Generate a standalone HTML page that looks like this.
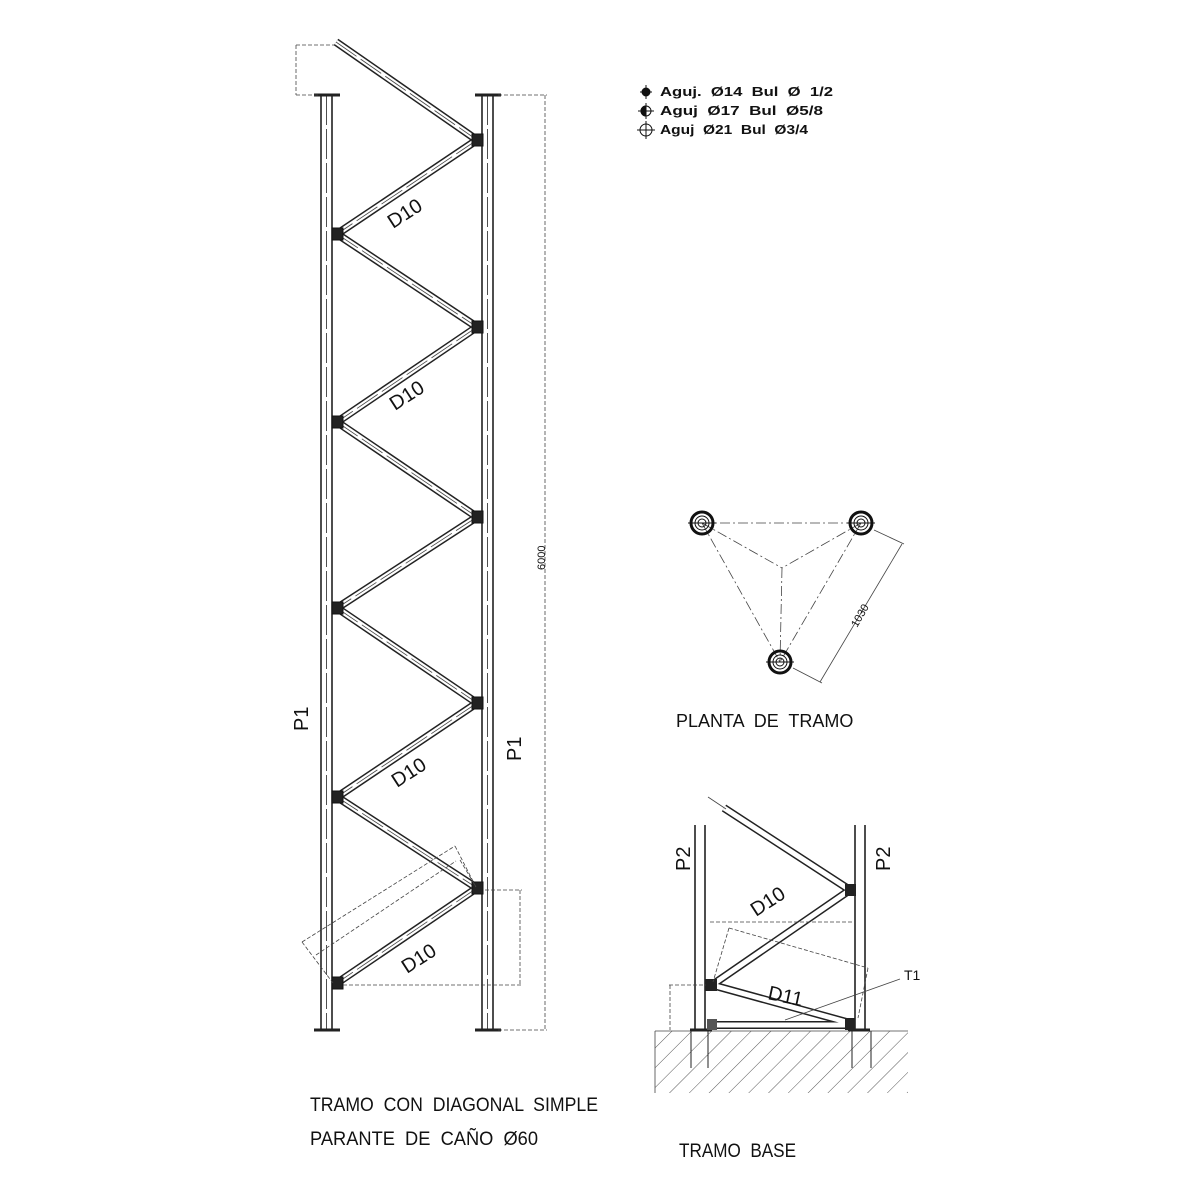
<!DOCTYPE html>
<html><head><meta charset="utf-8"><style>
html,body{margin:0;padding:0;background:#fff}
svg{display:block}
text{font-family:"Liberation Sans",sans-serif;fill:#111;white-space:pre}
</style></head><body>
<svg width="1200" height="1200" viewBox="0 0 1200 1200" xmlns="http://www.w3.org/2000/svg" xml:space="preserve">
<defs>
<pattern id="h" width="14" height="14" patternUnits="userSpaceOnUse" patternTransform="rotate(45)">
<line x1="0" y1="0" x2="0" y2="14" stroke="#444" stroke-width="0.9"/>
</pattern>
</defs>
<rect width="1200" height="1200" fill="#fff"/>

<g stroke="#222" fill="none">
<line x1="321" y1="95" x2="321" y2="1030" stroke-width="1.6"/>
<line x1="332" y1="95" x2="332" y2="1030" stroke-width="1.6"/>
<line x1="326.5" y1="95" x2="326.5" y2="1030" stroke-width="0.8" stroke-dasharray="30 4"/>
<line x1="482" y1="95" x2="482" y2="1030" stroke-width="1.6"/>
<line x1="493" y1="95" x2="493" y2="1030" stroke-width="1.6"/>
<line x1="487.5" y1="95" x2="487.5" y2="1030" stroke-width="0.8" stroke-dasharray="30 4"/>
<line x1="314" y1="95" x2="340" y2="95" stroke-width="3"/>
<line x1="475" y1="95" x2="501" y2="95" stroke-width="3"/>
<line x1="314" y1="1030" x2="340" y2="1030" stroke-width="3"/>
<line x1="475" y1="1030" x2="501" y2="1030" stroke-width="3"/>
</g>

<g fill="none" stroke-linecap="butt">
<path d="M336 42L477 140M477 140L337 234M337 234L477 327M477 327L337 422M337 422L477 517M477 517L337 608M337 608L477 703M477 703L337 797M337 797L477 888M477 888L337 983" stroke="#222" stroke-width="8"/>
<path d="M336 42L477 140M477 140L337 234M337 234L477 327M477 327L337 422M337 422L477 517M477 517L337 608M337 608L477 703M477 703L337 797M337 797L477 888M477 888L337 983" stroke="#fff" stroke-width="5"/>
<path d="M336 42L477 140M477 140L337 234M337 234L477 327M477 327L337 422M337 422L477 517M477 517L337 608M337 608L477 703M477 703L337 797M337 797L477 888M477 888L337 983" stroke="#444" stroke-width="0.8" stroke-dasharray="25 5"/>
</g>
<g fill="#222" stroke="#111">
<rect x="472" y="134" width="11" height="12"/>
<rect x="332" y="228" width="11" height="12"/>
<rect x="472" y="321" width="11" height="12"/>
<rect x="332" y="416" width="11" height="12"/>
<rect x="472" y="511" width="11" height="12"/>
<rect x="332" y="602" width="11" height="12"/>
<rect x="472" y="697" width="11" height="12"/>
<rect x="332" y="791" width="11" height="12"/>
<rect x="472" y="882" width="11" height="12"/>
<rect x="332" y="977" width="11" height="12"/>
</g>

<g stroke="#444" stroke-width="0.8" fill="none" stroke-dasharray="4 2">
<line x1="296" y1="45" x2="334" y2="45"/>
<line x1="296" y1="45" x2="296" y2="95"/>
<line x1="296" y1="95" x2="318" y2="95"/>
<line x1="498" y1="95" x2="547" y2="95"/>
<line x1="545" y1="95" x2="545" y2="1030"/>
<line x1="498" y1="1030" x2="547" y2="1030"/>
<line x1="485" y1="890" x2="522" y2="890"/>
<line x1="520" y1="890" x2="520" y2="985"/>
<line x1="343" y1="985" x2="522" y2="985"/>
<line x1="302" y1="942" x2="455" y2="846"/>
<line x1="316" y1="955" x2="456" y2="861"/>
<line x1="302" y1="942" x2="333" y2="983"/>
<line x1="455" y1="846" x2="476" y2="887"/>
<line x1="460" y1="860" x2="476" y2="887"/>
</g>
<text x="0" y="0" font-size="11" transform="translate(545,570) rotate(-90)">6000</text>

<g font-size="20">
<text transform="translate(393,229) rotate(-33)">D10</text>
<text transform="translate(395,411) rotate(-33)">D10</text>
<text transform="translate(397,788) rotate(-33)">D10</text>
<text transform="translate(407,974) rotate(-33)">D10</text>
<text transform="translate(308,731) rotate(-90)">P1</text>
<text transform="translate(521,761) rotate(-90)">P1</text>
</g>

<g stroke="#111" fill="none">
<line x1="640" y1="92" x2="652" y2="92"/><line x1="646" y1="85" x2="646" y2="99"/>
<circle cx="646" cy="92" r="4" fill="#111"/>
<line x1="638" y1="111" x2="654" y2="111"/><line x1="646" y1="103" x2="646" y2="119"/>
<circle cx="646" cy="111" r="5"/><path d="M646 106A5 5 0 0 0 646 116Z" fill="#111"/>
<line x1="637" y1="130" x2="655" y2="130"/><line x1="646" y1="121" x2="646" y2="139"/>
<circle cx="646" cy="130" r="6"/>
</g>
<g font-size="13" font-weight="bold">
<text x="660" y="96" textLength="173" lengthAdjust="spacingAndGlyphs">Aguj.  Ø14  Bul  Ø  1/2</text>
<text x="660" y="115" textLength="163" lengthAdjust="spacingAndGlyphs">Aguj  Ø17  Bul  Ø5/8</text>
<text x="660" y="134" textLength="148" lengthAdjust="spacingAndGlyphs">Aguj  Ø21  Bul  Ø3/4</text>
</g>

<g stroke="#444" stroke-width="0.8" fill="none" stroke-dasharray="10 3 2 3">
<line x1="702" y1="523" x2="861" y2="523"/>
<line x1="702" y1="523" x2="780" y2="662"/>
<line x1="861" y1="523" x2="780" y2="662"/>
<line x1="702" y1="523" x2="782" y2="568"/>
<line x1="861" y1="523" x2="782" y2="568"/>
<line x1="782" y1="568" x2="780" y2="662"/>
</g>
<g stroke="#444" stroke-width="0.8" fill="none">
<line x1="874" y1="530" x2="904" y2="544"/>
<line x1="793" y1="668" x2="822" y2="683"/>
<line x1="902" y1="544" x2="820" y2="682"/>
</g>
<g stroke="#111" fill="none">
<circle cx="702" cy="523" r="11" stroke-width="3"/><circle cx="702" cy="523" r="7"/><circle cx="702" cy="523" r="4"/>
<circle cx="861" cy="523" r="11" stroke-width="3"/><circle cx="861" cy="523" r="7"/><circle cx="861" cy="523" r="4"/>
<circle cx="780" cy="662" r="11" stroke-width="3"/><circle cx="780" cy="662" r="7"/><circle cx="780" cy="662" r="4"/>
<line x1="688" y1="523" x2="716" y2="523"/><line x1="847" y1="523" x2="875" y2="523"/><line x1="766" y1="662" x2="794" y2="662"/>
</g>
<text font-size="11" transform="translate(857,628) rotate(-60)">1030</text>
<text x="676" y="727" font-size="18">PLANTA  DE  TRAMO</text>

<rect x="655" y="1031" width="253" height="62" fill="url(#h)"/>
<line x1="655" y1="1031" x2="908" y2="1031" stroke="#444" stroke-width="0.8"/>
<line x1="655" y1="1031" x2="655" y2="1093" stroke="#444" stroke-width="0.8"/>
<g stroke="#222" fill="none">
<line x1="695" y1="825" x2="695" y2="1030" stroke-width="1.6"/>
<line x1="705" y1="825" x2="705" y2="1030" stroke-width="1.6"/>
<line x1="855" y1="825" x2="855" y2="1030" stroke-width="1.6"/>
<line x1="865" y1="825" x2="865" y2="1030" stroke-width="1.6"/>
<line x1="690" y1="1030" x2="712" y2="1030" stroke-width="3"/>
<line x1="848" y1="1030" x2="870" y2="1030" stroke-width="3"/>
<line x1="691" y1="1031" x2="691" y2="1068"/>
<line x1="708" y1="1031" x2="708" y2="1068"/>
<line x1="852" y1="1031" x2="852" y2="1068"/>
<line x1="871" y1="1031" x2="871" y2="1068"/>
</g>
<g fill="none">
<path d="M724 808L850 890M850 890L712 985M712 985L850 1023M714 1025L850 1025" stroke="#222" stroke-width="8"/>
<path d="M724 808L850 890M850 890L712 985M712 985L850 1023M714 1025L850 1025" stroke="#fff" stroke-width="5"/>
<line x1="708" y1="797" x2="726" y2="809" stroke="#444" stroke-width="0.8"/>
</g>
<g fill="#222"><rect x="845" y="884" width="11" height="12"/><rect x="705" y="979" width="12" height="12"/><rect x="845" y="1018" width="10" height="12"/><rect x="707" y="1019" width="10" height="11" fill="#555"/></g>
<g stroke="#444" stroke-width="0.8" fill="none" stroke-dasharray="4 2">
<line x1="710" y1="922" x2="852" y2="922"/>
<line x1="729" y1="928" x2="868" y2="968"/>
<line x1="729" y1="928" x2="713" y2="982"/>
<line x1="868" y1="968" x2="858" y2="1018"/>
<line x1="669" y1="985" x2="706" y2="985"/>
<line x1="670" y1="985" x2="670" y2="1030"/>
<line x1="785" y1="1020" x2="900" y2="979" stroke-dasharray="none"/>
</g>
<g font-size="20">
<text transform="translate(690,871) rotate(-90)">P2</text>
<text transform="translate(890,871) rotate(-90)">P2</text>
<text transform="translate(756,917) rotate(-33)">D10</text>
<text transform="translate(767,999) rotate(12)">D11</text>
</g>
<text x="904" y="980" font-size="14">T1</text>

<g font-size="19">
<text x="310" y="1111" textLength="288" lengthAdjust="spacingAndGlyphs">TRAMO  CON  DIAGONAL  SIMPLE</text>
<text x="310" y="1145" textLength="228" lengthAdjust="spacingAndGlyphs">PARANTE  DE  CAÑO  Ø60</text>
<text x="679" y="1157" textLength="117" lengthAdjust="spacingAndGlyphs">TRAMO  BASE</text>
</g>
</svg>
</body></html>
